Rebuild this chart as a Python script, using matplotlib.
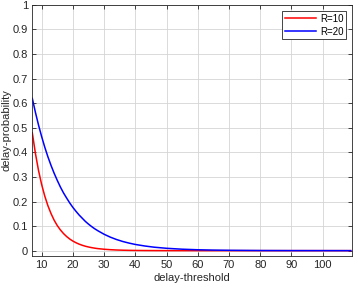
import matplotlib
matplotlib.use("Agg")
import matplotlib.pyplot as plt

x_vals = [7, 8, 9, 10, 11, 12, 13, 14, 15, 16, 17, 18, 19, 20, 21, 22, 23, 24, 25,
          26, 27, 28, 30, 32, 34, 36, 38, 40, 43, 46, 50, 55, 60, 65, 70, 80, 90, 100, 109]
r10 = [0.480, 0.396, 0.326, 0.269, 0.222, 0.183, 0.151, 0.124, 0.102, 0.0844, 0.0696,
       0.0574, 0.0473, 0.0390, 0.0322, 0.0265, 0.0219, 0.0180, 0.0149, 0.0123, 0.0101,
       0.0083, 0.0057, 0.0039, 0.0026, 0.0018, 0.0012, 0.0008, 0.00046, 0.00026, 0.00012,
       0.00005, 0.0, 0.0, 0.0, 0.0, 0.0, 0.0, 0.0]
r20 = [0.620, 0.563, 0.511, 0.464, 0.421, 0.382, 0.347, 0.315, 0.286, 0.259, 0.235,
       0.214, 0.194, 0.176, 0.160, 0.145, 0.132, 0.119, 0.108, 0.098, 0.089, 0.081,
       0.0667, 0.0549, 0.0452, 0.0372, 0.0307, 0.0252, 0.0190, 0.0141, 0.0096, 0.0059,
       0.0036, 0.0022, 0.0014, 0.0005, 0.0002, 0.0001, 0.0]
series_labels = ["R=10", "R=20"]
x_ticks = [10, 20, 30, 40, 50, 60, 70, 80, 90, 100]
y_ticks = [0, 0.1, 0.2, 0.3, 0.4, 0.5, 0.6, 0.7, 0.8, 0.9, 1]
y_ticklabels = ["0", "0.1", "0.2", "0.3", "0.4", "0.5", "0.6", "0.7", "0.8", "0.9", "1"]

plt.rcParams['font.family'] = ['Liberation Sans', 'DejaVu Sans']
fig = plt.figure(figsize=(3.54, 2.89), dpi=100)
ax = fig.add_axes([0.0912, 0.114, 0.904, 0.869])

ax.plot(x_vals, r10, color='#ff0000', lw=1.1, label=series_labels[0])
ax.plot(x_vals, r20, color='#0000ff', lw=1.1, label=series_labels[1])

ax.set_xlim(7, 109.5)
ax.set_ylim(-0.022, 1.0)
ax.set_xticks(x_ticks)
ax.set_yticks(y_ticks)
ax.set_yticklabels(y_ticklabels)
ax.grid(True, color='#d4d4d4', lw=0.6)
ax.set_axisbelow(True)
ax.tick_params(direction='in', length=3, width=0.6, labelsize=8, top=True, right=True,
               colors='#262626', pad=3)
for s in ax.spines.values():
    s.set_color('#262626')
    s.set_linewidth(0.6)
ax.set_xlabel('delay-threshold', fontsize=8, color='#262626', labelpad=2)
ax.set_ylabel('delay-probability', fontsize=8, color='#262626', labelpad=1)
leg = ax.legend(loc='upper right', fontsize=7, frameon=True, fancybox=False,
                edgecolor='#262626', framealpha=1, borderpad=0.3, labelspacing=0.3,
                handlelength=3.2, handletextpad=0.4, borderaxespad=0.6)
leg.get_frame().set_linewidth(0.6)

fig.savefig('out.png', dpi=100)
